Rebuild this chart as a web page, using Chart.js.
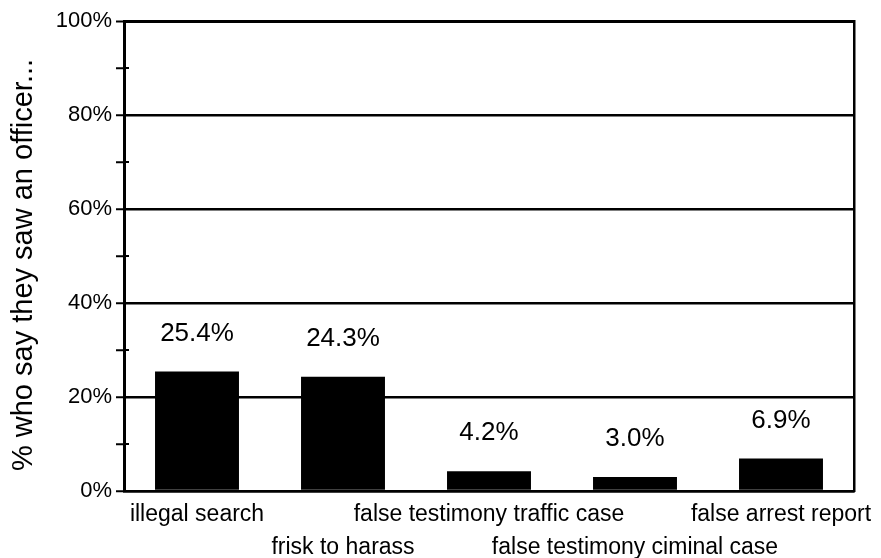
<!DOCTYPE html>
<html>
<head>
<meta charset="utf-8">
<script src="https://cdn.jsdelivr.net/npm/chart.js@4/dist/chart.umd.min.js"></script>
<style>
  html, body { margin: 0; padding: 0; background: #fff; }
  #wrap { width: 881px; height: 558px; position: relative; }
</style>
</head>
<body>
<div id="wrap"><canvas id="chart"></canvas></div>
<script>
  "use strict";

  const categories = [
    "illegal search",
    "frisk to harass",
    "false testimony traffic case",
    "false testimony ciminal case",
    "false arrest report"
  ];
  const values = [25.4, 24.3, 4.2, 3.0, 6.9];
  const valueLabels = ["25.4%", "24.3%", "4.2%", "3.0%", "6.9%"];
  const yTicks = [0, 20, 40, 60, 80, 100];
  const yTitle = "% who say they saw an officer...";

  const FONT = "'Liberation Sans', Arial, sans-serif";

  // staggered two-row category labels
  const labels = categories.map((c, i) => (i % 2 === 0 ? [c, ""] : ["", c]));

  // value labels, y title and minor ticks crossing the axis
  const extras = {
    id: "extras",
    afterDatasetsDraw(chart) {
      const c = chart.ctx;
      const meta = chart.getDatasetMeta(0);
      c.save();
      c.fillStyle = "#000";
      c.font = "26px " + FONT;
      c.textAlign = "center";
      c.textBaseline = "middle";
      meta.data.forEach((bar, i) => {
        c.fillText(valueLabels[i], bar.x, bar.y - 38);
      });

      // minor ticks on right side of the axis
      const y = chart.scales.y;
      c.strokeStyle = "#000";
      c.lineWidth = 2;
      [10, 30, 50, 70, 90].forEach(v => {
        const py = y.getPixelForValue(v);
        c.beginPath();
        c.moveTo(y.right, py);
        c.lineTo(y.right + 5, py);
        c.stroke();
      });

      // rotated axis title
      c.translate(24, 265);
      c.rotate(-Math.PI / 2);
      c.font = "29px " + FONT;
      c.fillText(yTitle, 0, 0);
      c.restore();
    }
  };

  new Chart(document.getElementById("chart"), {
    type: "bar",
    data: {
      labels: labels,
      datasets: [{
        data: values,
        backgroundColor: "#000",
        borderWidth: 0,
        categoryPercentage: 1,
        barPercentage: 0.575
      }]
    },
    plugins: [extras],
    options: {
      responsive: true,
      maintainAspectRatio: false,
      animation: false,
      layout: { padding: { left: 0, right: 27, top: 21, bottom: 0 } },
      plugins: { legend: { display: false }, tooltip: { enabled: false } },
      scales: {
        x: {
          grid: { display: false },
          border: { display: true, color: "#000", width: 2.5 },
          ticks: {
            color: "#000",
            font: { family: FONT, size: 23, lineHeight: 1.4 },
            padding: 0,
            maxRotation: 0,
            minRotation: 0,
            autoSkip: false
          },
          afterFit(scale) { scale.height = 67; }
        },
        y: {
          min: 0,
          max: 100,
          border: { display: true, color: "#000", width: 3 },
          grid: {
            color: ctx => (ctx.tick && ctx.tick.value % 20 === 0 ? "#000" : "rgba(0,0,0,0)"),
            tickColor: "#000",
            lineWidth: ctx => (ctx.tick && ctx.tick.value === 100 ? 3 : 2.5),
            tickLength: 8,
            tickWidth: 2
          },
          ticks: {
            stepSize: 10,
            color: "#000",
            padding: 4,
            font: { family: FONT, size: 22 },
            callback: v => (yTicks.includes(v) ? v + "%" : "")
          },
          afterFit(scale) { scale.width = 124; }
        },
        y2: {
          position: "right",
          min: 0,
          max: 100,
          grid: { display: false, drawTicks: false },
          ticks: { display: false },
          border: { display: true, color: "#000", width: 2.5 },
          afterFit(scale) { scale.width = 0; }
        }
      }
    }
  });
</script>
</body>
</html>
